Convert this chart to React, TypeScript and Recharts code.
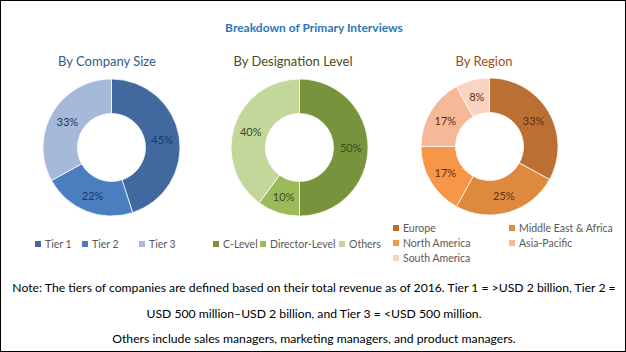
import React from 'react';
import { PieChart, Pie, Cell, Legend } from 'recharts';

// data
const companySizeNames = ['Tier 1', 'Tier 2', 'Tier 3'];
const companySizeValues = [45, 22, 33];
const companySizeColors = ['#41699f', '#4a7ebf', '#a7b9d9'];

const designationNames = ['C-Level', 'Director-Level', 'Others'];
const designationValues = [50, 10, 40];
const designationColors = ['#77933c', '#9bbb59', '#c4d79b'];

const regionNames = ['Europe', 'Middle East & Africa', 'North America', 'Asia-Pacific', 'South America'];
const regionValues = [33, 25, 17, 17, 8];
const regionColors = ['#bc6f33', '#dd8a3f', '#f79646', '#f6b896', '#fad3c3'];

const noteLines = [
  'Note: The tiers of companies are defined based on their total revenue as of 2016. Tier 1 = >USD 2 billion, Tier 2 =',
  'USD 500 million\u2013USD 2 billion, and Tier 3 = <USD 500 million.',
  'Others include sales managers, marketing managers, and product managers.',
];

const FONT = 'Lato, "Noto Sans", sans-serif';
const RADIAN = Math.PI / 180;

const toRows = (names: string[], values: number[]) =>
  names.map((name, i) => ({ name, value: values[i] }));

const pctLabel = (color: string) => (props: any) => {
  const { cx, cy, midAngle, innerRadius, outerRadius, value } = props;
  const r = (innerRadius + outerRadius) / 2;
  const x = cx + r * Math.cos(-midAngle * RADIAN);
  const y = cy + r * Math.sin(-midAngle * RADIAN);
  return (
    <text
      x={x}
      y={y}
      fill={color}
      textAnchor="middle"
      dominantBaseline="central"
      fontSize={11}
      fontFamily={FONT}
    >
      {value}%
    </text>
  );
};

interface LegendSpot {
  x: number;
  y: number;
}

// legend drawn in data order (recharts sorts the payload by name)
const makeLegend = (names: string[], colors: string[], spots: LegendSpot[]) => () => (
  <div style={{ position: 'relative', width: '100%', height: '100%' }}>
    {names.map((name, i) => (
      <div
        key={`leg-${i}`}
        style={{
          position: 'absolute',
          left: spots[i].x,
          top: spots[i].y - 7,
          height: 14,
          display: 'flex',
          alignItems: 'center',
          whiteSpace: 'nowrap',
          fontSize: 10.5,
          color: '#595959',
          fontFamily: FONT,
        }}
      >
        <span
          style={{
            display: 'inline-block',
            width: 6,
            height: 6,
            background: colors[i],
            marginRight: 4,
          }}
        />
        {name}
      </div>
    ))}
  </div>
);

interface DonutProps {
  left: number;
  top: number;
  width: number;
  height: number;
  cx: number;
  cy: number;
  names: string[];
  values: number[];
  colors: string[];
  labelColor: string;
  spots: LegendSpot[];
}

const Donut: React.FC<DonutProps> = ({ left, top, width, height, cx, cy, names, values, colors, labelColor, spots }) => {
  const data = toRows(names, values);
  return (
    <div style={{ position: 'absolute', left, top }}>
      <PieChart width={width} height={height} margin={{ top: 0, right: 0, bottom: 0, left: 0 }}>
        <Pie
          data={data}
          dataKey="value"
          nameKey="name"
          cx={cx}
          cy={cy}
          innerRadius={34}
          outerRadius={68.5}
          startAngle={90}
          endAngle={-270}
          stroke="#ffffff"
          strokeWidth={0.75}
          labelLine={false}
          label={pctLabel(labelColor)}
          isAnimationActive={false}
        >
          {data.map((entry, index) => (
            <Cell key={`cell-${index}`} fill={colors[index]} />
          ))}
        </Pie>
        <Legend
          content={makeLegend(names, colors, spots)}
          wrapperStyle={{ position: 'absolute', left: 0, top: 0, width, height }}
        />
      </PieChart>
    </div>
  );
};

const subtitleStyle = (color: string, center: number): React.CSSProperties => ({
  position: 'absolute',
  left: center - 100,
  width: 200,
  top: 52,
  textAlign: 'center',
  fontSize: 13,
  color,
  fontFamily: FONT,
});

const App: React.FC = () => {
  return (
    <div
      style={{
        position: 'absolute',
        left: 0,
        top: 0,
        width: 626,
        height: 352,
        boxSizing: 'border-box',
        border: '1px solid #000',
        background: '#fff',
        fontFamily: FONT,
        overflow: 'hidden',
      }}
    >
      <div
        style={{
          position: 'absolute',
          left: 0,
          width: 626,
          top: 19,
          textAlign: 'center',
          fontSize: 12,
          fontWeight: 700,
          color: '#2e75b6',
        }}
      >
        Breakdown of Primary Interviews
      </div>

      <div style={subtitleStyle('#2f5a8c', 106)}>By Company Size</div>
      <div style={subtitleStyle('#4a4a2a', 292)}>By Designation Level</div>
      <div style={subtitleStyle('#9c4f1a', 483)}>By Region</div>

      <Donut
        left={20}
        top={70}
        width={180}
        height={190}
        cx={90.5}
        cy={76.5}
        names={companySizeNames}
        values={companySizeValues}
        colors={companySizeColors}
        labelColor="#1f3864"
        spots={[
          { x: 14, y: 173 },
          { x: 61, y: 173 },
          { x: 118, y: 173 },
        ]}
      />
      <Donut
        left={208}
        top={70}
        width={182}
        height={190}
        cx={90.5}
        cy={76.5}
        names={designationNames}
        values={designationValues}
        colors={designationColors}
        labelColor="#3c4a1e"
        spots={[
          { x: 4, y: 173 },
          { x: 51, y: 173 },
          { x: 130, y: 173 },
        ]}
      />
      <Donut
        left={390}
        top={70}
        width={234}
        height={200}
        cx={98.5}
        cy={75.5}
        names={regionNames}
        values={regionValues}
        colors={regionColors}
        labelColor="#5a2f10"
        spots={[
          { x: 2, y: 157 },
          { x: 118, y: 157 },
          { x: 2, y: 172 },
          { x: 118, y: 172 },
          { x: 2, y: 187 },
        ]}
      />

      {noteLines.map((line, i) => (
        <div
          key={`note-${i}`}
          style={{
            position: 'absolute',
            left: 0,
            width: 626,
            top: [279, 305, 330][i],
            textAlign: 'center',
            fontSize: 12.2,
            color: '#000',
            whiteSpace: 'nowrap',
          }}
        >
          {line}
        </div>
      ))}
    </div>
  );
};

export default App;
